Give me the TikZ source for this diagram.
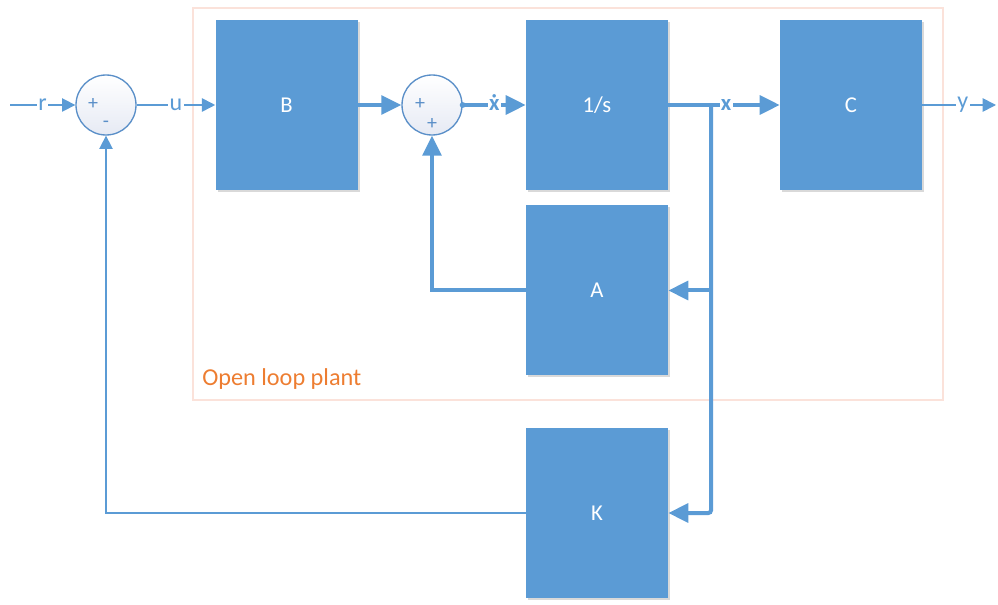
\documentclass[tikz,border=0pt]{standalone}
\usepackage{fontspec}
\setmainfont{Carlito}
\usetikzlibrary{arrows.meta,shadows}
\definecolor{blu}{HTML}{5B9BD5}
\definecolor{bluedge}{HTML}{5A8FC8}
\definecolor{framecol}{HTML}{FBE2DA}
\definecolor{orangetxt}{HTML}{ED7D31}
\definecolor{sumbot}{HTML}{E6EAF4}
\newcommand{\xdotglyph}{\ooalign{x\cr\hidewidth\char"02D9\hidewidth}}
\begin{document}
\begin{tikzpicture}[x=0.75pt,y=-0.75pt,
  blk/.style={draw=none, fill=blu, minimum width=106.5pt, minimum height=127.5pt, inner sep=0pt,
    text=white, font=\fontsize{17}{19}\selectfont,
    drop shadow={shadow xshift=1.5pt, shadow yshift=-1.5pt, opacity=0.25, fill=black!60}},
  sumc/.style={circle, draw=bluedge, line width=1pt, top color=white, bottom color=sumbot,
    minimum size=45pt, inner sep=0pt},
  sgn/.style={text=bluedge, font=\fontsize{15}{16}\selectfont, inner sep=0pt},
  thinarr/.style={blu, line width=1.2pt, -{Triangle[length=10pt,width=10pt]}},
  thickarr/.style={blu, line width=3pt, -{Triangle[length=15pt,width=14pt]}},
  lbl/.style={fill=white, inner sep=1pt, text=blu, font=\fontsize{18}{20}\selectfont},
  blbl/.style={fill=white, inner sep=1pt, text=blu, font=\bfseries\fontsize{17}{19}\selectfont}
]
\useasboundingbox (0,0) rectangle (998,605);
% frame
\node[draw=framecol, line width=0.8pt, minimum width=562.5pt, minimum height=294pt, inner sep=0pt] (frame) at (568,204) {};
\node[anchor=west, text=orangetxt, font=\fontsize{18.2}{20}\selectfont, inner sep=0pt] (olp) at (202,379) {Open loop plant};
% blocks
\node[blk] (B) at (286.5,105) {B};
\node[blk] (I) at (597,105) {1/s};
\node[blk] (C) at (851,105) {C};
\node[blk] (A) at (597,290.5) {A};
\node[blk] (K) at (597,513) {K};
% summing junctions
\node[sumc] (s1) at (106,105) {};
\node[sgn] (s1p) at (93,104) {+};
\node[sgn] (s1m) at (106,124) {-};
\node[sumc] (s2) at (432,105) {};
\node[sgn] (s2p) at (420,104) {+};
\node[sgn] (s2q) at (432,124) {+};
% coordinates
\coordinate (rin) at (10,105);
\coordinate (yout) at (996,105);
\coordinate (br) at (711,105);
% connectors
\draw[thinarr] (rin) -- node[lbl] (rl) {r} (s1.west);
\draw[thinarr] (s1.east) -- node[lbl] (ul) {u} (B.west);
\draw[thickarr] (B.east) -- (s2.west);
\fill[blu] (s2.east) circle (2.2pt);
\draw[thickarr] (s2.east) -- node[blbl] (xdl) {\xdotglyph} (I.west);
\draw[thickarr] (I.east) -- (br) -- node[blbl, pos=0.22] (xl) {x} (C.west);
\draw[thinarr] (C.east) -- node[lbl, pos=0.55] (yl) {y} (yout);
\draw[thickarr, rounded corners=2pt] (br) |- (K.east);
\draw[thickarr] (br |- A.east) -- (A.east);
\draw[thickarr] (A.west) -| (s2.south);
\draw[thinarr] (K.west) -| (s1.south);
\end{tikzpicture}
\end{document}
